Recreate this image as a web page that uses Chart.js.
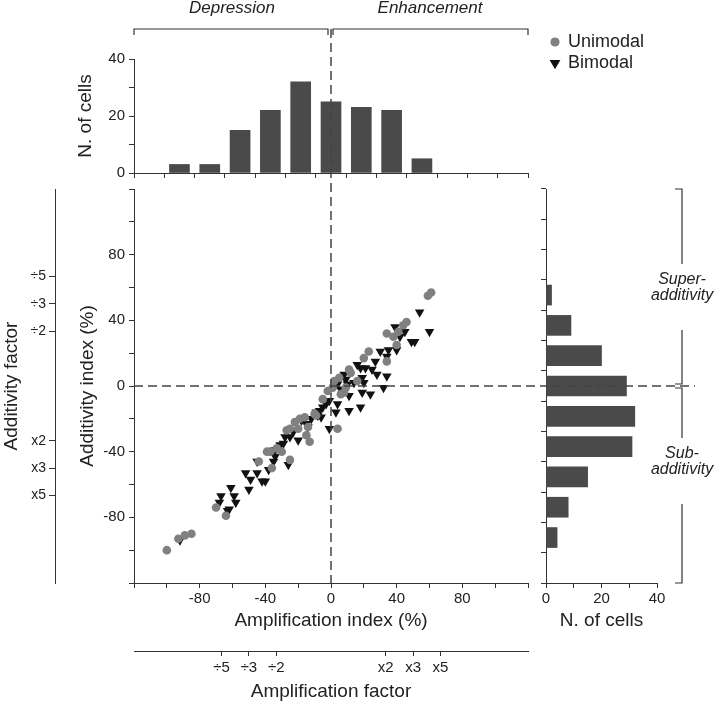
<!DOCTYPE html>
<html>
<head>
<meta charset="utf-8">
<script src="https://cdn.jsdelivr.net/npm/chart.js@4.4.1/dist/chart.umd.min.js"></script>
<style>
  html, body { margin: 0; padding: 0; background: #fff; }
  #wrap { position: relative; width: 720px; height: 703px; background: #fff; }
  #wrap canvas { position: absolute; left: 0; top: 0; }
</style>
</head>
<body>
<div id="wrap">
  <canvas id="top_hist" width="720" height="703"></canvas>
  <canvas id="right_hist" width="720" height="703"></canvas>
  <canvas id="main_chart" width="720" height="703"></canvas>
</div>
<script>
// histogram of amplification index (top)
const ampBins = [-100, -80, -60, -40, -20, 0, 20, 40, 60];
const ampCounts = [3, 3, 15, 22, 32, 25, 23, 22, 5];

// histogram of additivity index (right)
const addBins = [60, 40, 20, 0, -20, -40, -60, -80, -100];
const addCounts = [2, 9, 20, 29, 32, 31, 15, 8, 4];

// scatter: [amplification index, additivity index]
const unimodal = [
  [-100, -100], [-93, -93], [-89, -91], [-85, -90], [-70, -74], [-64, -79],
  [-44, -46], [-39, -40], [-37, -40], [-36, -50], [-30, -40], [-25, -45],
  [-33, -38], [-27, -27], [-25, -26], [-20, -26], [-19, -20], [-16, -19],
  [-22, -22], [-15, -30], [-13, -34], [-14, -25], [-10, -17], [-9, -18],
  [-5, -8], [-2, -3], [1, -1], [2, 3], [4, -26], [5, 5], [6, -5], [8, -4],
  [9, -1], [11, 10], [12, 8], [16, 3], [20, 17], [23, 21], [34, 32], [34, 15],
  [38, 30], [40, 25], [41, 33], [44, 37], [46, 39], [59, 55], [61, 57]
];
const bimodal = [
  [-92, -94], [-67, -67], [-68, -71], [-61, -62], [-59, -67], [-58, -71],
  [-62, -75], [-63, -76], [-52, -53], [-50, -63], [-49, -57], [-45, -53],
  [-45, -46], [-42, -58], [-40, -58], [-38, -51], [-35, -46], [-34, -39],
  [-34, -43], [-31, -36], [-29, -35], [-28, -31], [-26, -48], [-25, -31],
  [-23, -28], [-20, -33], [-18, -21], [-15, -23], [-14, -25], [-12, -20],
  [-9, -16], [-8, -18], [-7, -15], [-6, -19], [-5, -13], [-3, -11], [-1, -9],
  [-1, -26], [3, -16], [4, -11], [4, 1], [6, -2], [8, 7], [9, 4], [10, 1],
  [11, -6], [11, -15], [14, 2], [16, 13], [18, 11], [19, 5], [20, 2], [21, 11],
  [18, -13], [19, -4], [24, -5], [25, 10], [27, 15], [28, 7], [30, 21], [32, -1],
  [34, 18], [34, 6], [35, 22], [39, 36], [40, 22], [42, 30], [45, 33],
  [49, 27], [51, 27], [54, 45], [60, 33]
];

// factor axes: a factor f sits at 100*(f-1)/(f+1) on the index scale
const factors = [2, 3, 5];
const factorPos = factors.map(f => 100 * (f - 1) / (f + 1));

const FONT = "'Liberation Sans', Arial, sans-serif";
const AXIS = '#333';

function baseAxis(extra) {
  const a = {
    border: { color: AXIS, width: 1 },
    grid: { drawOnChartArea: false, drawTicks: true, tickLength: 5, color: AXIS },
    ticks: { color: '#222', font: { family: FONT, size: 15 }, autoSkip: false, maxRotation: 0 }
  };
  return Object.assign(a, extra);
}
const titleFont = { family: FONT, size: 19 };
const everyForty = v => (v % 40 === 0 && Math.abs(v) < 120) ? v : '';
const factorTicks = s => {
  s.ticks = factorPos.slice().reverse().map(v => ({ value: -v })).concat(factorPos.map(v => ({ value: v })));
};
const factorOf = v => factors[factorPos.findIndex(p => Math.abs(p - Math.abs(v)) < 0.01)];

// top histogram
new Chart(document.getElementById('top_hist'), {
  type: 'bar',
  data: {
    datasets: [{
      data: ampBins.map((b, i) => ({ x: b, y: ampCounts[i] })),
      backgroundColor: '#4a4a4a',
      barThickness: 20
    }]
  },
  options: {
    responsive: false,
    animation: false,
    layout: { padding: { left: 55, right: 192, top: 59, bottom: 520 } },
    plugins: { legend: { display: false }, tooltip: { enabled: false } },
    scales: {
      x: baseAxis({
        type: 'linear', min: -120, max: 120,
        ticks: { display: false, stepSize: 20 },
        afterFit: s => { s.height = 10; }
      }),
      y: baseAxis({
        min: 0, max: 40,
        ticks: { color: '#222', font: { family: FONT, size: 15 }, stepSize: 10, padding: 4,
                 callback: v => v % 20 === 0 ? v : '' },
        title: { display: true, text: 'N. of cells', color: '#222', font: titleFont, padding: { top: 19 } },
        afterFit: s => { s.width = 79; }
      })
    }
  }
});

// right histogram
new Chart(document.getElementById('right_hist'), {
  type: 'bar',
  data: {
    datasets: [{
      data: addBins.map((b, i) => ({ y: b, x: addCounts[i] })),
      backgroundColor: '#4a4a4a',
      barThickness: 20
    }]
  },
  options: {
    indexAxis: 'y',
    responsive: false,
    animation: false,
    layout: { padding: { left: 538, right: 63, top: 189, bottom: 52 } },
    plugins: { legend: { display: false }, tooltip: { enabled: false } },
    scales: {
      y: baseAxis({
        type: 'linear', min: -120, max: 120,
        ticks: { display: false, stepSize: 20 },
        afterFit: s => { s.width = 8; }
      }),
      x: baseAxis({
        min: 0, max: 40,
        ticks: { color: '#222', font: { family: FONT, size: 15 }, stepSize: 10, padding: 2,
                 callback: v => v % 20 === 0 ? v : '' },
        title: { display: true, text: 'N. of cells', color: '#222', font: titleFont, padding: { bottom: 19 } },
        afterFit: s => { s.height = 68; }
      })
    }
  }
});

function drawMarker(ctx, style, x, y, r, color, rot) {
  ctx.fillStyle = color;
  ctx.strokeStyle = color;
  if (Chart.helpers && Chart.helpers.drawPoint) {
    Chart.helpers.drawPoint(ctx, { pointStyle: style, radius: r, rotation: rot, borderWidth: 1 }, x, y);
    ctx.fill();
  }
}

const decorations = {
  id: 'decorations',
  afterDraw(chart) {
    const { ctx, scales: { x, y } } = chart;
    const x0 = x.getPixelForValue(0);
    const y0 = y.getPixelForValue(0);
    ctx.save();
    // zero lines
    ctx.strokeStyle = '#444';
    ctx.lineWidth = 1.5;
    ctx.setLineDash([9, 5]);
    ctx.beginPath(); ctx.moveTo(x0, 29); ctx.lineTo(x0, y.bottom); ctx.stroke();
    ctx.beginPath(); ctx.moveTo(x.left, y0); ctx.lineTo(695, y0); ctx.stroke();
    ctx.setLineDash([]);

    // brackets
    ctx.strokeStyle = AXIS;
    ctx.lineWidth = 1.2;
    ctx.beginPath();
    ctx.moveTo(x.left, 35); ctx.lineTo(x.left, 29); ctx.lineTo(x0 - 3, 29); ctx.lineTo(x0 - 3, 35);
    ctx.moveTo(x0 + 2, 35); ctx.lineTo(x0 + 2, 29); ctx.lineTo(x.right, 29); ctx.lineTo(x.right, 35);
    const bx = 682;
    ctx.moveTo(675, y.top); ctx.lineTo(bx, y.top); ctx.lineTo(bx, 264);
    ctx.moveTo(bx, 330); ctx.lineTo(bx, y0 - 2); ctx.lineTo(675, y0 - 2);
    ctx.moveTo(675, y0 + 2); ctx.lineTo(bx, y0 + 2); ctx.lineTo(bx, 438);
    ctx.moveTo(bx, 504); ctx.lineTo(bx, y.bottom); ctx.lineTo(675, y.bottom);
    ctx.stroke();

    // bracket labels
    ctx.fillStyle = '#222';
    ctx.textAlign = 'center';
    ctx.textBaseline = 'middle';
    ctx.font = 'italic 17px ' + FONT;
    ctx.fillText('Depression', 232, 8);
    ctx.fillText('Enhancement', 430, 8);
    ctx.font = 'italic 16px ' + FONT;
    ctx.fillText('Super-', bx, 280);
    ctx.fillText('additivity', bx, 296);
    ctx.fillText('Sub-', bx, 454);
    ctx.fillText('additivity', bx, 470);

    // legend
    drawMarker(ctx, 'circle', 555, 42, 4, '#808080', 0);
    drawMarker(ctx, 'triangle', 555, 63, 5, '#111', 180);
    ctx.fillStyle = '#222';
    ctx.textAlign = 'left';
    ctx.font = '18px ' + FONT;
    ctx.fillText('Unimodal', 568, 42);
    ctx.fillText('Bimodal', 568, 63);
    ctx.restore();
  }
};

new Chart(document.getElementById('main_chart'), {
  type: 'scatter',
  data: {
    datasets: [
      {
        label: 'Unimodal',
        data: unimodal.map(p => ({ x: p[0], y: p[1] })),
        pointStyle: 'circle', pointRadius: 4.3,
        backgroundColor: '#808080', borderColor: '#808080', borderWidth: 0
      },
      {
        label: 'Bimodal',
        data: bimodal.map(p => ({ x: p[0], y: p[1] })),
        pointStyle: 'triangle', pointRotation: 180, pointRadius: 5.5,
        backgroundColor: '#111', borderColor: '#111', borderWidth: 0
      }
    ]
  },
  options: {
    responsive: false,
    animation: false,
    layout: { padding: { left: 0, right: 192, top: 189, bottom: 0 } },
    plugins: { legend: { display: false }, tooltip: { enabled: false } },
    scales: {
      x: baseAxis({
        type: 'linear', position: 'bottom', weight: 0, min: -120, max: 120,
        ticks: { color: '#222', font: { family: FONT, size: 15 }, stepSize: 20, padding: 2,
                 autoSkip: false, maxRotation: 0, callback: everyForty },
        title: { display: true, text: 'Amplification index (%)', color: '#222', font: titleFont, padding: { bottom: 19 } },
        afterFit: s => { s.height = 68; }
      }),
      xf: baseAxis({
        type: 'linear', position: 'bottom', weight: 1, min: -120, max: 120,
        afterBuildTicks: factorTicks,
        ticks: { color: '#222', font: { family: FONT, size: 15 }, padding: 3, autoSkip: false, maxRotation: 0,
                 callback: v => (v < 0 ? '\u00f7' : 'x') + factorOf(v) },
        title: { display: true, text: 'Amplification factor', color: '#222', font: titleFont, padding: { bottom: 0 } },
        afterFit: s => { s.height = 52; }
      }),
      y: baseAxis({
        type: 'linear', position: 'left', weight: 0, min: -120, max: 120,
        ticks: { color: '#222', font: { family: FONT, size: 15 }, stepSize: 20, padding: 4,
                 autoSkip: false, callback: everyForty },
        title: { display: true, text: 'Additivity index (%)', color: '#222', font: titleFont, padding: { top: 21 } },
        afterFit: s => { s.width = 79; }
      }),
      yf: baseAxis({
        type: 'linear', position: 'left', weight: 1, min: -120, max: 120,
        grid: { drawOnChartArea: false, drawTicks: true, tickLength: 6, color: AXIS },
        afterBuildTicks: factorTicks,
        ticks: { color: '#222', font: { family: FONT, size: 14 }, padding: 3, autoSkip: false,
                 callback: v => (v > 0 ? '\u00f7' : 'x') + factorOf(v) },
        title: { display: true, text: 'Additivity factor', color: '#222', font: titleFont, padding: { top: 0 } },
        afterFit: s => { s.width = 55; }
      })
    }
  },
  plugins: [decorations]
});
</script>
</body>
</html>
